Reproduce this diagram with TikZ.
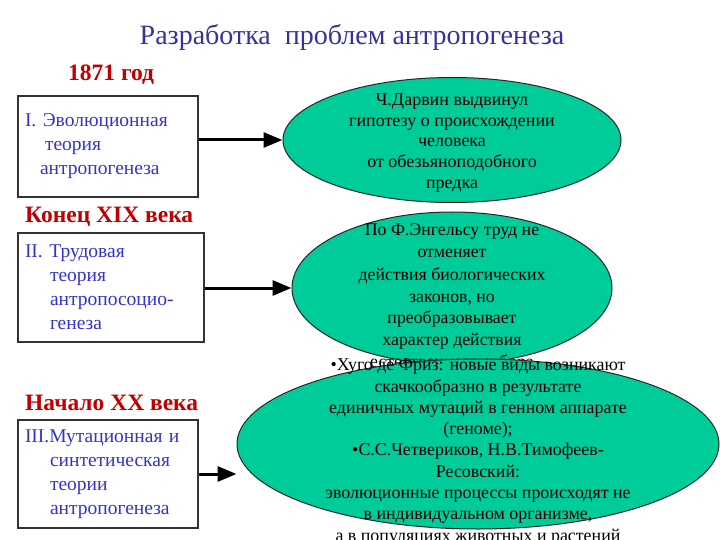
\documentclass[tikz,border=0pt]{standalone}
\usepackage{fontspec}
\setmainfont{Liberation Serif}
\usetikzlibrary{shapes.geometric,arrows.meta}
\definecolor{ovalgreen}{RGB}{0,204,153}
\definecolor{titleblue}{RGB}{51,51,153}
\definecolor{boxblue}{RGB}{51,51,204}
\definecolor{datered}{RGB}{192,0,0}
\begin{document}
\begin{tikzpicture}[x=1pt,y=-1pt,
  theory/.style={draw=black!80,line width=1.2pt,rectangle,inner xsep=7pt,inner ysep=0pt,
    align=left,text=boxblue,font=\fontsize{19.5}{24}\selectfont},
  oval/.style={draw=black!85,line width=1pt,fill=ovalgreen,ellipse,inner sep=0pt},
  ovaltext/.style={align=center,inner sep=0pt},
  period/.style={text=datered,font=\fontsize{23.5}{26}\selectfont\bfseries,anchor=west,inner sep=0pt},
  flow/.style={line width=3pt,-{Triangle[length=19pt,width=15pt]}}]
\useasboundingbox (0,0) rectangle (720,540);
\node[text=titleblue,font=\fontsize{28}{32}\selectfont] (title) at (352,37) {Разработка~ проблем антропогенеза};
% periods
\node[period] (p1) at (68,75) {1871 год};
\node[period] (p2) at (25,217) {Конец XIX века};
\node[period] (p3) at (25,403) {Начало XX века};
% theories
\node[theory,minimum width=180,minimum height=101,text width=166] (th1) at (108,146.5)
  {I. Эволюционная\\\hspace*{20pt}теория\\\hspace*{15pt}антропогенеза};
\node[theory,minimum width=186,minimum height=109,text width=172] (th2) at (111,287.5)
  {II. Трудовая\\\hspace*{25pt}теория\\\hspace*{25pt}антропосоцио-\\\hspace*{25pt}генеза};
\node[theory,minimum width=180,minimum height=108,text width=166] (th3) at (108,474)
  {III.Мутационная и\\\hspace*{25pt}синтетическая\\\hspace*{25pt}теории\\\hspace*{25pt}антропогенеза};
% ovals
\node[oval,minimum width=338,minimum height=125] (e1) at (452,140) {};
\node[ovaltext,font=\fontsize{18}{20.8}\selectfont] (t1) at (452,143)
  {Ч.Дарвин выдвинул\\гипотезу о происхождении\\человека\\от обезьяноподобного\\предка};
\node[oval,minimum width=320,minimum height=152] (e2) at (452,288) {};
\node[ovaltext,font=\fontsize{17.8}{22}\selectfont] (t2) at (452,298)
  {По Ф.Энгельсу труд не\\отменяет\\действия биологических\\законов, но\\преобразовывает\\характер действия\\естественного отбора};
\node[oval,minimum width=482,minimum height=170] (e3) at (478,444) {};
\node[ovaltext,font=\fontsize{17.9}{21.3}\selectfont] (t3) at (478,452)
  {•Хуго де Фриз: новые виды возникают\\скачкообразно в результате\\единичных мутаций в генном аппарате\\(геноме);\\•С.С.Четвериков, Н.В.Тимофеев-\\Ресовский:\\эволюционные процессы происходят не\\в индивидуальном организме,\\а в популяциях животных и растений};
% arrows
\draw[flow] (th1.east |- e1.west) -- (e1.west);
\draw[flow] (th2.east |- e2.west) -- (e2.west);
\draw[flow] (th3.east) -- (th3.east -| e3.west);
\end{tikzpicture}
\end{document}
